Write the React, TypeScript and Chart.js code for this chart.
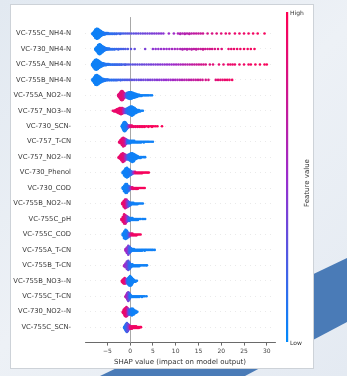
import React, { useEffect, useRef } from 'react';
import { Chart, registerables } from 'chart.js';

Chart.register(...registerables);

// Feature names, top to bottom
const FEATURES = [
  'VC-755C_NH4-N', 'VC-730_NH4-N', 'VC-755A_NH4-N', 'VC-755B_NH4-N',
  'VC-755A_NO2--N', 'VC-757_NO3--N', 'VC-730_SCN-', 'VC-757_T-CN',
  'VC-757_NO2--N', 'VC-730_Phenol', 'VC-730_COD', 'VC-755B_NO2--N',
  'VC-755C_pH', 'VC-755C_COD', 'VC-755A_T-CN', 'VC-755B_T-CN',
  'VC-755B_NO3--N', 'VC-755C_T-CN', 'VC-730_NO2--N', 'VC-755C_SCN-',
];

const X_TICKS = [-5, 0, 5, 10, 15, 20, 25, 30];
const X_TICK_LABELS = ['\u22125', '0', '5', '10', '15', '20', '25', '30'];
const X_MIN = -9.9;
const X_MAX = 31.8;
const X_TITLE = 'SHAP value (impact on model output)';
const CBAR_TITLE = 'Feature value';
const CBAR_HIGH = 'High';
const CBAR_LOW = 'Low';

// Each entry: [SHAP value, number of samples at that value, feature value 0 (low) .. 1 (high)]
const R_755C_NH4N = [
  [-8.2, 4, .05], [-7.9, 12, .05], [-7.6, 22, .05], [-7.3, 26, .05], [-7.0, 24, .05], [-6.7, 18, .05], [-6.4, 13, .06], [-6.1, 9, .07], [-5.8, 6, .08], [-5.5, 4, .1], [-5.2, 3, .1], [-4.9, 3, .12], [-4.6, 2, .12],
  [-4.2, 2, .15], [-3.8, 2, .15], [-3.4, 2, .17], [-3.0, 2, .18], [-2.6, 1, .2], [-2.2, 2, .2], [-1.8, 1, .22], [-1.4, 1, .23], [-1.0, 1, .25], [-0.6, 1, .26], [-0.2, 1, .28],
  [0.3, 1, .3], [0.8, 1, .3], [1.3, 1, .32], [1.8, 1, .33], [2.3, 1, .34], [2.8, 1, .35], [3.3, 1, .36], [3.8, 1, .37], [4.3, 1, .38], [4.8, 1, .4], [5.3, 1, .4], [5.8, 1, .42], [6.3, 1, .43], [6.8, 1, .44], [7.3, 1, .45],
  [8.5, 1, .5], [9.6, 1, .52],
  [10.5, 1, .58], [11.0, 2, .6], [11.5, 1, .6], [12.0, 2, .62], [12.5, 1, .63], [13.0, 2, .65], [13.5, 1, .66], [14.0, 1, .68], [14.5, 1, .7], [15.0, 1, .7], [15.5, 1, .72], [16.0, 1, .74],
  [17.0, 1, .78], [18.0, 1, .8], [19.0, 1, .83], [20.0, 1, .85], [21.0, 1, .87], [21.8, 1, .88], [23.0, 1, .9], [24.0, 1, .91], [25.0, 1, .92], [26.0, 1, .93], [27.0, 1, .94], [28.0, 1, .95], [29.5, 1, .96],
];
const R_730_NH4N = [
  [-7.6, 4, .05], [-7.3, 12, .05], [-7.0, 22, .05], [-6.7, 26, .05], [-6.4, 22, .05], [-6.1, 16, .06], [-5.8, 11, .07], [-5.5, 7, .08], [-5.2, 5, .1], [-4.9, 3, .1], [-4.6, 3, .12],
  [-4.2, 2, .14], [-3.8, 2, .15], [-3.4, 2, .16], [-3.0, 1, .18], [-2.6, 2, .2], [-2.2, 1, .2], [-1.8, 1, .22], [-1.4, 1, .24], [-1.0, 1, .25], [-0.5, 1, .27], [0.2, 1, .3], [1.0, 1, .32],
  [3.3, 1, .4],
  [5.0, 1, .45], [5.6, 1, .46], [6.2, 1, .47], [6.8, 1, .48], [7.4, 1, .5], [8.0, 1, .5], [8.6, 1, .52], [9.2, 1, .54], [9.8, 1, .55], [10.4, 1, .57], [11.0, 1, .58], [11.5, 2, .6], [12.0, 1, .61], [12.5, 2, .62], [13.0, 1, .64], [13.5, 2, .65], [14.0, 1, .67], [14.5, 2, .68], [15.0, 1, .7], [15.5, 1, .71], [16.0, 2, .73], [16.5, 1, .74], [17.0, 1, .76], [17.5, 1, .77], [18.0, 1, .79], [18.6, 1, .8], [19.3, 1, .82], [20.1, 1, .84],
  [21.6, 1, .88], [22.2, 1, .89], [22.8, 1, .9], [23.5, 1, .91], [24.2, 1, .92], [25.0, 1, .93], [25.8, 1, .94], [26.5, 1, .95], [27.3, 1, .96],
];
const R_755A_NH4N = [
  [-8.3, 6, .05], [-8.0, 16, .05], [-7.7, 26, .05], [-7.4, 28, .05], [-7.1, 24, .05], [-6.8, 19, .05], [-6.5, 14, .06], [-6.2, 10, .07], [-5.9, 7, .08], [-5.6, 5, .1], [-5.3, 4, .1], [-5.0, 3, .12], [-4.7, 3, .12],
  [-4.3, 2, .14], [-3.9, 2, .15], [-3.5, 2, .16], [-3.1, 2, .17], [-2.7, 2, .18], [-2.3, 2, .2], [-1.9, 2, .21], [-1.5, 1, .22], [-1.1, 2, .24], [-0.7, 1, .25], [-0.3, 1, .27], [0.1, 1, .28],
  [0.6, 1, .3], [1.1, 1, .31], [1.6, 1, .32], [2.1, 1, .33], [2.6, 1, .34], [3.1, 1, .35], [3.6, 1, .36], [4.1, 1, .37], [4.6, 1, .38], [5.1, 1, .4], [5.6, 1, .41], [6.1, 1, .42], [6.6, 1, .43], [7.1, 1, .44], [7.6, 1, .46], [8.1, 1, .47], [8.6, 1, .48],
  [9.1, 1, .5], [9.6, 1, .52], [10.1, 1, .54], [10.6, 1, .56], [11.1, 1, .58], [11.6, 1, .6], [12.1, 1, .62], [12.6, 1, .64], [13.1, 1, .66], [13.6, 1, .68], [14.1, 1, .7], [14.6, 1, .72], [15.1, 1, .74], [15.6, 1, .76], [16.1, 1, .78], [16.6, 1, .8],
  [17.5, 1, .83], [18.2, 1, .85],
  [19.5, 1, .88], [20.5, 1, .89], [21.5, 1, .9], [22.0, 1, .9], [22.5, 1, .91], [23.0, 1, .91], [24.0, 1, .92], [25.0, 1, .93], [26.0, 1, .94], [26.5, 1, .94], [27.5, 1, .95], [28.5, 1, .96], [29.5, 1, .97], [30.0, 1, .97],
];
const R_755B_NH4N = [
  [-8.2, 5, .05], [-7.9, 14, .05], [-7.6, 24, .05], [-7.3, 26, .05], [-7.0, 22, .05], [-6.7, 17, .05], [-6.4, 12, .06], [-6.1, 8, .07], [-5.8, 6, .08], [-5.5, 4, .1], [-5.2, 3, .1], [-4.9, 3, .12],
  [-4.5, 2, .13], [-4.1, 2, .14], [-3.7, 2, .15], [-3.3, 2, .16], [-2.9, 2, .18], [-2.5, 1, .19], [-2.1, 2, .2], [-1.7, 1, .22], [-1.3, 1, .23], [-0.9, 1, .25], [-0.5, 1, .26], [-0.1, 1, .28],
  [0.4, 1, .3], [0.9, 1, .31], [1.4, 1, .32], [1.9, 1, .33], [2.4, 1, .35], [2.9, 1, .36], [3.4, 1, .37], [3.9, 1, .38], [4.4, 1, .4], [4.9, 1, .41], [5.4, 1, .42], [5.9, 1, .44], [6.4, 1, .45], [6.9, 1, .46], [7.4, 1, .48], [7.9, 1, .49],
  [8.4, 1, .5], [8.9, 1, .52], [9.4, 1, .54], [9.9, 1, .55], [10.4, 1, .57], [10.9, 1, .59], [11.4, 1, .6], [11.9, 1, .62], [12.4, 1, .64], [12.9, 1, .65], [13.4, 1, .67], [13.9, 1, .69], [14.4, 1, .7], [14.9, 1, .72], [15.4, 1, .74], [15.9, 1, .75],
  [16.6, 1, .78], [17.2, 1, .8],
  [18.8, 1, .84], [19.3, 1, .86], [19.8, 1, .87], [20.3, 1, .88], [20.8, 1, .9], [21.3, 1, .91], [21.8, 1, .92], [22.4, 1, .93],
];
const R_755A_NO2N = [
  [-2.6, 3, .85], [-2.4, 6, .85], [-2.2, 10, .85], [-2.0, 14, .85], [-1.8, 16, .85], [-1.6, 14, .85], [-1.4, 10, .8], [-1.2, 7, .75], [-1.0, 6, .5], [-0.8, 7, .3], [-0.6, 9, .15],
  [-0.4, 10, .1], [-0.2, 11, .08], [0.0, 12, .06], [0.2, 11, .05], [0.4, 10, .05], [0.6, 9, .05], [0.8, 8, .05], [1.0, 7, .05], [1.2, 6, .05], [1.4, 5, .05], [1.6, 4, .05], [1.8, 3, .05],
  [2.0, 3, .05], [2.2, 2, .05], [2.5, 2, .05], [2.8, 1, .05], [3.1, 1, .05], [3.4, 1, .05], [3.7, 1, .05], [4.0, 1, .05], [4.4, 1, .05], [4.8, 1, .05],
];
const R_757_NO3N = [
  [-3.8, 1, .9], [-3.5, 2, .9], [-3.2, 3, .9], [-2.9, 5, .9], [-2.6, 7, .9], [-2.3, 9, .9], [-2.0, 10, .88], [-1.7, 9, .85], [-1.4, 7, .6], [-1.1, 6, .35], [-0.8, 7, .2],
  [-0.5, 9, .1], [-0.2, 11, .08], [0.1, 13, .06], [0.4, 14, .05], [0.7, 12, .05], [1.0, 9, .05], [1.3, 6, .05], [1.6, 4, .05], [1.9, 3, .05], [2.2, 2, .05], [2.5, 1, .05], [2.8, 1, .05],
];
const R_730_SCN = [
  [-1.8, 3, .05], [-1.6, 8, .05], [-1.4, 14, .05], [-1.2, 16, .05], [-1.0, 14, .06], [-0.8, 10, .08], [-0.6, 6, .15], [-0.4, 4, .3], [-0.2, 3, .6],
  [0.1, 3, .8], [0.4, 3, .9], [0.8, 2, .92], [1.2, 2, .93], [1.6, 2, .94], [2.0, 2, .95], [2.4, 2, .95], [2.8, 2, .95], [3.2, 2, .96], [3.6, 1, .96], [4.0, 2, .96],
  [4.4, 1, .97], [4.8, 2, .97], [5.2, 1, .97], [5.6, 1, .97], [6.0, 1, .98], [7.0, 1, .98],
];
const R_757_TCN = [
  [-2.4, 2, .9], [-2.1, 5, .9], [-1.8, 9, .88], [-1.5, 12, .85], [-1.2, 10, .8], [-0.9, 7, .5], [-0.6, 5, .2], [-0.3, 4, .1],
  [0.0, 4, .06], [0.3, 3, .05], [0.6, 3, .05], [0.9, 3, .05], [1.2, 2, .05], [1.5, 2, .05], [1.8, 2, .05], [2.1, 2, .05], [2.4, 2, .05], [2.7, 1, .05],
  [3.0, 2, .05], [3.3, 1, .05], [3.6, 1, .05], [3.9, 1, .05], [4.2, 1, .05], [4.6, 1, .05], [5.0, 1, .05],
];
const R_757_NO2N = [
  [-2.5, 2, .9], [-2.2, 5, .9], [-1.9, 9, .88], [-1.6, 12, .85], [-1.3, 10, .8], [-1.0, 7, .6], [-0.7, 6, .3], [-0.4, 7, .15], [-0.1, 9, .1],
  [0.2, 11, .06], [0.5, 12, .05], [0.8, 10, .05], [1.1, 7, .05], [1.4, 5, .05], [1.7, 3, .05], [2.0, 2, .05], [2.3, 2, .05], [2.6, 1, .05], [3.0, 1, .05], [3.3, 1, .05],
];
const R_730_PHENOL = [
  [-1.6, 3, .05], [-1.3, 8, .05], [-1.0, 13, .05], [-0.7, 15, .05], [-0.4, 12, .06], [-0.1, 9, .08], [0.2, 6, .12], [0.5, 4, .2], [0.8, 3, .5],
  [1.1, 3, .8], [1.4, 2, .9], [1.7, 2, .92], [2.0, 2, .93], [2.3, 2, .94], [2.6, 2, .95], [2.9, 1, .95], [3.2, 1, .96], [3.5, 1, .96], [3.8, 1, .97], [4.1, 1, .97],
];
const R_730_COD = [
  [-1.6, 3, .05], [-1.3, 8, .05], [-1.0, 12, .05], [-0.7, 12, .06], [-0.4, 8, .1], [-0.1, 5, .2], [0.2, 3, .6],
  [0.5, 3, .85], [0.8, 2, .9], [1.1, 2, .92], [1.4, 2, .93], [1.7, 2, .94], [2.0, 1, .95], [2.3, 1, .95], [2.6, 1, .96], [2.9, 1, .96], [3.2, 1, .97],
];
const R_755B_NO2N = [
  [-1.7, 3, .9], [-1.4, 8, .9], [-1.1, 12, .85], [-0.8, 11, .7], [-0.5, 8, .4], [-0.2, 6, .2], [0.1, 4, .1],
  [0.4, 3, .06], [0.7, 3, .05], [1.0, 2, .05], [1.3, 2, .05], [1.6, 2, .05], [1.9, 1, .05], [2.2, 1, .05], [2.5, 1, .05], [2.8, 1, .05],
];
const R_755C_PH = [
  [-1.9, 2, .9], [-1.6, 6, .9], [-1.3, 11, .88], [-1.0, 10, .8], [-0.7, 7, .5], [-0.4, 5, .25], [-0.1, 4, .1],
  [0.2, 3, .06], [0.5, 3, .05], [0.8, 2, .05], [1.1, 2, .05], [1.4, 2, .05], [1.7, 2, .05], [2.0, 1, .05], [2.3, 1, .05], [2.7, 1, .05], [3.0, 1, .05], [3.3, 1, .05],
];
const R_755C_COD = [
  [-1.6, 3, .05], [-1.3, 8, .05], [-1.0, 11, .05], [-0.7, 9, .08], [-0.4, 6, .15], [-0.1, 4, .4], [0.2, 3, .8],
  [0.5, 3, .9], [0.8, 2, .92], [1.1, 2, .93], [1.4, 2, .94], [1.7, 1, .95], [2.0, 1, .95], [2.3, 1, .96],
];
const R_755A_TCN = [
  [-1.0, 3, .6], [-0.7, 8, .5], [-0.4, 12, .4], [-0.1, 9, .2], [0.2, 5, .1], [0.5, 3, .05],
  [0.8, 3, .05], [1.1, 2, .05], [1.4, 2, .05], [1.7, 2, .05], [2.0, 2, .05], [2.3, 2, .05], [2.6, 2, .05], [2.9, 1, .05], [3.2, 2, .05],
  [3.5, 1, .05], [3.8, 1, .05], [4.1, 1, .05], [4.4, 1, .05], [4.7, 1, .05], [5.0, 1, .05], [5.4, 1, .05],
];
const R_755B_TCN = [
  [-1.3, 2, .6], [-1.0, 5, .5], [-0.7, 9, .4], [-0.4, 11, .3], [-0.1, 8, .15], [0.2, 4, .1],
  [0.5, 3, .05], [0.8, 2, .05], [1.1, 2, .05], [1.4, 2, .05], [1.7, 2, .05], [2.0, 2, .05], [2.3, 1, .05], [2.6, 1, .05], [2.9, 1, .05], [3.2, 1, .05], [3.5, 1, .05], [3.7, 1, .05],
];
const R_755B_NO3N = [
  [-1.8, 2, .9], [-1.6, 4, .9], [-1.4, 6, .9], [-1.2, 7, .88], [-1.0, 6, .8], [-0.8, 5, .5], [-0.6, 6, .2],
  [-0.4, 8, .1], [-0.2, 10, .06], [0.0, 11, .05], [0.2, 10, .05], [0.4, 8, .05], [0.6, 5, .05], [0.8, 3, .05], [1.0, 2, .05], [1.2, 2, .05], [1.5, 1, .05],
];
const R_755C_TCN = [
  [-1.0, 2, .7], [-0.8, 5, .6], [-0.6, 9, .5], [-0.4, 12, .4], [-0.2, 9, .25], [0.0, 5, .1],
  [0.2, 3, .05], [0.5, 2, .05], [0.8, 2, .05], [1.1, 2, .05], [1.4, 2, .05], [1.7, 2, .05], [2.0, 2, .05], [2.3, 1, .05], [2.6, 2, .05], [2.9, 1, .05], [3.2, 1, .05], [3.6, 1, .05],
];
const R_730_NO2N = [
  [-1.6, 2, .9], [-1.4, 5, .9], [-1.2, 8, .9], [-1.0, 10, .88], [-0.8, 11, .85], [-0.6, 9, .7], [-0.4, 7, .45], [-0.2, 6, .25],
  [0.0, 6, .15], [0.2, 7, .1], [0.4, 8, .06], [0.6, 7, .05], [0.8, 6, .05], [1.0, 4, .05], [1.2, 3, .05], [1.4, 2, .05], [1.6, 1, .05],
];
const R_755C_SCN = [
  [-1.3, 2, .1], [-1.1, 6, .1], [-0.9, 10, .15], [-0.7, 12, .2], [-0.5, 10, .3], [-0.3, 7, .4], [-0.1, 5, .6],
  [0.1, 4, .85], [0.4, 4, .9], [0.7, 3, .92], [1.0, 3, .93], [1.3, 3, .94], [1.6, 2, .95], [1.9, 2, .95], [2.2, 1, .96], [2.4, 1, .96],
];

const ROWS = [
  R_755C_NH4N, R_730_NH4N, R_755A_NH4N, R_755B_NH4N, R_755A_NO2N, R_757_NO3N, R_730_SCN,
  R_757_TCN, R_757_NO2N, R_730_PHENOL, R_730_COD, R_755B_NO2N, R_755C_PH, R_755C_COD,
  R_755A_TCN, R_755B_TCN, R_755B_NO3N, R_755C_TCN, R_730_NO2N, R_755C_SCN,
];

const FONT = '"DejaVu Sans", sans-serif';
const STOPS = [
  [0, [0, 138, 251]],
  [0.5, [155, 45, 205]],
  [1, [255, 0, 82]],
] as const;

function featureColor(f: number): string {
  const t = Math.max(0, Math.min(1, f));
  for (let i = 0; i < STOPS.length - 1; i++) {
    const [a, ca] = STOPS[i];
    const [b, cb] = STOPS[i + 1];
    if (t <= b) {
      const u = (t - a) / (b - a);
      const c = ca.map((v, k) => Math.round(v + (cb[k] - v) * u));
      return `rgb(${c[0]},${c[1]},${c[2]})`;
    }
  }
  return 'rgb(255,0,82)';
}

// beeswarm layout in the same spirit as shap.summary_plot (stacked layers per value bin)
function buildDataset(rowIndex: number, entries: number[][]) {
  let maxPos = 0;
  entries.forEach(([, n]) => { maxPos = Math.max(maxPos, Math.floor(n / 2)); });
  const scale = (0.9 * 0.4) / (maxPos + 1);
  const pts: { x: number; y: number }[] = [];
  const colors: string[] = [];
  entries.forEach(([v, n, f]) => {
    for (let layer = 0; layer < n; layer++) {
      const k = Math.ceil(layer / 2) * (layer % 2 === 1 ? 1 : -1);
      pts.push({ x: v, y: rowIndex + k * scale });
      colors.push(featureColor(f));
    }
  });
  return {
    data: pts,
    pointBackgroundColor: colors,
    pointBorderWidth: 0,
    pointRadius: 1.3,
    pointHoverRadius: 1.3,
    showLine: false,
  };
}

const backgroundPlugin = {
  id: 'slideBackground',
  beforeDraw(chart: any) {
    const { ctx, width, height } = chart;
    ctx.save();
    const g = ctx.createLinearGradient(0, 0, width, height);
    g.addColorStop(0, '#e2e9f1');
    g.addColorStop(0.5, '#edf1f6');
    g.addColorStop(1, '#e4eaf2');
    ctx.fillStyle = g;
    ctx.fillRect(0, 0, width, height);
    // diagonal band
    ctx.fillStyle = '#4a7bb7';
    ctx.beginPath();
    ctx.moveTo(100, height);
    ctx.lineTo(width, 258);
    ctx.lineTo(width, 322);
    ctx.lineTo(245, height);
    ctx.closePath();
    ctx.fill();
    // white panel
    ctx.fillStyle = '#ffffff';
    ctx.fillRect(10, 4, 304, 365);
    ctx.strokeStyle = '#cdd2d8';
    ctx.lineWidth = 1;
    ctx.strokeRect(10.5, 4.5, 303, 364);
    ctx.restore();
  },
  beforeDatasetsDraw(chart: any) {
    const { ctx, chartArea, scales } = chart;
    const x = Math.round(scales.x.getPixelForValue(0)) + 0.5;
    ctx.save();
    ctx.strokeStyle = '#a8a8a8';
    ctx.lineWidth = 1;
    ctx.beginPath();
    ctx.moveTo(x, chartArea.top - 1);
    ctx.lineTo(x, chartArea.bottom);
    ctx.stroke();
    ctx.restore();
  },
  afterDraw(chart: any) {
    const { ctx } = chart;
    const top = 12;
    const bottom = 342;
    const x = 286;
    ctx.save();
    const g = ctx.createLinearGradient(0, bottom, 0, top);
    for (let i = 0; i <= 10; i++) g.addColorStop(i / 10, featureColor(i / 10));
    ctx.fillStyle = g;
    ctx.fillRect(x, top, 2.2, bottom - top);
    ctx.fillStyle = '#333';
    ctx.font = `6px ${FONT}`;
    ctx.textAlign = 'left';
    ctx.textBaseline = 'middle';
    ctx.fillText(CBAR_HIGH, x + 4, top + 1);
    ctx.fillText(CBAR_LOW, x + 4, bottom + 1);
    ctx.translate(307, 183);
    ctx.rotate(-Math.PI / 2);
    ctx.textAlign = 'center';
    ctx.font = `7px ${FONT}`;
    ctx.fillText(CBAR_TITLE, 0, 0);
    ctx.restore();
  },
};

export default function App() {
  const ref = useRef<HTMLCanvasElement | null>(null);
  useEffect(() => {
    if (!ref.current) return;
    const datasets = ROWS.map((r, i) => buildDataset(i, r));
    const chart = new Chart(ref.current, {
      type: 'scatter',
      data: { datasets } as any,
      plugins: [backgroundPlugin],
      options: {
        animation: false,
        responsive: false,
        events: [],
        layout: { padding: { left: 0, right: 72, top: 13.3, bottom: 0 } },
        plugins: { legend: { display: false }, tooltip: { enabled: false } },
        scales: {
          x: {
            type: 'linear',
            min: X_MIN,
            max: X_MAX,
            afterBuildTicks: (s: any) => { s.ticks = X_TICKS.map((v) => ({ value: v })); },
            afterFit: (s: any) => { s.height = 33.4; },
            grid: { drawOnChartArea: false, drawTicks: true, tickLength: 3, color: '#444', lineWidth: 0.8 },
            border: { color: '#444', width: 0.8 },
            ticks: {
              font: { family: FONT, size: 6 },
              color: '#444',
              padding: 2,
              maxRotation: 0,
              callback: (v: any) => { const i = X_TICKS.indexOf(Number(v)); return i >= 0 ? X_TICK_LABELS[i] : ''; },
            },
            title: { display: true, text: X_TITLE, font: { family: FONT, size: 7 }, color: '#333', padding: { top: 0, bottom: 9.8 } },
          },
          y: {
            type: 'linear',
            reverse: true,
            min: -1,
            max: 20,
            afterBuildTicks: (s: any) => { s.ticks = FEATURES.map((_, i) => ({ value: i })); },
            afterFit: (s: any) => { s.width = 85; },
            grid: { drawTicks: false, color: '#d4d4d4', lineWidth: 0.5 },
            border: { display: false, dash: [1, 4] },
            ticks: {
              font: { family: FONT, size: 6.8 },
              color: '#3a3a3a',
              padding: 14,
              autoSkip: false,
              callback: (v: any) => FEATURES[Number(v)] ?? '',
            },
          },
        },
      } as any,
    });
    return () => chart.destroy();
  }, []);
  return (
    <div style={{ position: 'fixed', left: 0, top: 0, width: 347, height: 376 }}>
      <canvas ref={ref} width={347} height={376} style={{ display: 'block', width: 347, height: 376 }} />
    </div>
  );
}
